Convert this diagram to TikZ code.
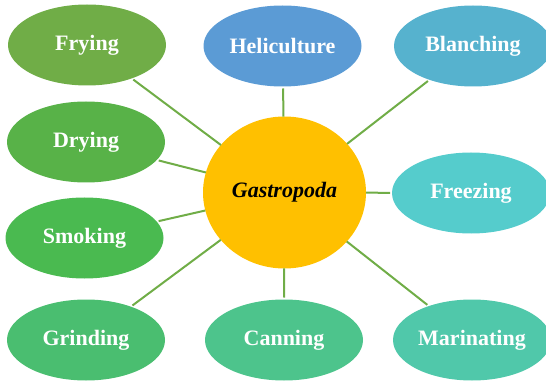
\documentclass[tikz,border=0pt]{standalone}
\usepackage{fontspec}
\setmainfont{Liberation Serif}
\usetikzlibrary{shapes.geometric}
\definecolor{cFry}{HTML}{70AD47}
\definecolor{cHel}{HTML}{5B9BD5}
\definecolor{cBla}{HTML}{56B2CE}
\definecolor{cDry}{HTML}{58B248}
\definecolor{cFre}{HTML}{55CCCC}
\definecolor{cSmo}{HTML}{4ABA50}
\definecolor{cGri}{HTML}{4ABE70}
\definecolor{cCan}{HTML}{4DC48C}
\definecolor{cMar}{HTML}{50C8AA}
\definecolor{cHub}{HTML}{FFC000}
\definecolor{cLine}{HTML}{70AD47}
\tikzset{
  leaf/.style={ellipse, minimum width=158pt, minimum height=81pt, inner sep=0pt, outer sep=0pt,
    text=white, font=\bfseries\fontsize{22}{26}\selectfont},
  hub/.style={ellipse, fill=cHub, minimum width=163pt, minimum height=152pt, inner sep=0pt, outer sep=0pt,
    font=\bfseries\itshape\fontsize{22}{26}\selectfont},
  link/.style={draw=cLine, line width=2pt, shorten >=2pt}
}
\begin{document}
\begin{tikzpicture}[x=1pt,y=-1pt]
\useasboundingbox (0,0) rectangle (546,382);
\node[hub] (g) at (284.5,192.5) {Gastropoda};
\node[leaf, fill=cFry] (fry) at (87,45) {Frying};
\node[leaf, fill=cHel] (hel) at (282.5,46) {Heliculture};
\node[leaf, fill=cBla] (bla) at (473,46) {Blanching};
\node[leaf, fill=cDry] (dry) at (86,142) {Drying};
\node[leaf, fill=cFre] (fre) at (471,193) {Freezing};
\node[leaf, fill=cSmo] (smo) at (84.5,238) {Smoking};
\node[leaf, fill=cGri] (gri) at (86,340) {Grinding};
\node[leaf, fill=cCan] (can) at (284,340) {Canning};
\node[leaf, fill=cMar] (mar) at (472,340) {Marinating};
\foreach \n in {fry,hel,bla,dry,fre,smo,gri,can,mar}
  \draw[link] (g) -- (\n);
\end{tikzpicture}
\end{document}
